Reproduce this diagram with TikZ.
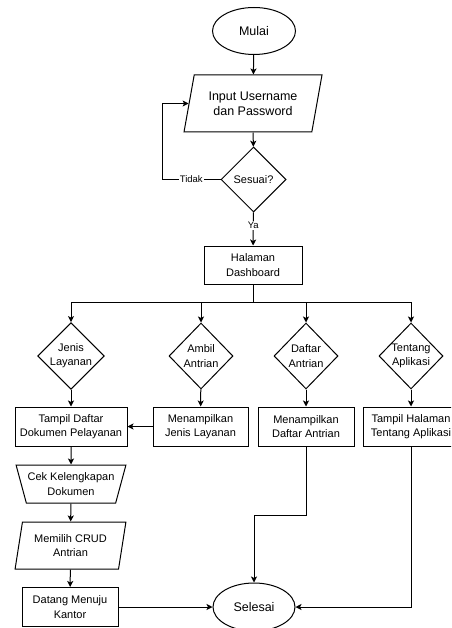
\documentclass[tikz,border=0pt]{standalone}
\usepackage{fontspec}
\setmainfont{Liberation Sans}
\usetikzlibrary{shapes.geometric,arrows.meta}

\begin{document}
\begin{tikzpicture}[x=1pt,y=-1pt,line width=1pt,
  every node/.style={inner sep=0pt,align=center,font=\fontsize{11}{14.3}\selectfont},
  arrow/.style={-{Stealth[length=6pt,width=6pt,inset=1.5pt]}},
  terminal/.style={draw,ellipse,font=\fontsize{12.5}{15}\selectfont},
  process/.style={draw,rectangle,minimum height=39pt},
  choice/.style={draw,diamond,minimum width=64pt,minimum height=66pt},
  datain/.style={draw,trapezium,trapezium stretches=true,trapezium left angle=72,trapezium right angle=108},
  lbl/.style={fill=white,inner sep=1pt,font=\fontsize{9.5}{11}\selectfont}]
\useasboundingbox (0,0) rectangle (451,628);
\clip (0,0) rectangle (451,628);
\node[terminal,minimum width=83pt,minimum height=47pt] (mulai) at (254,31) {Mulai};
\node[datain,minimum width=138pt,minimum height=57pt,font=\fontsize{12.5}{15}\selectfont] (input) at (253,103.5) {Input Username\\dan Password};
\node[choice,minimum width=65pt,minimum height=65pt] (sesuai) at (253.5,179.5) {Sesuai?};
\node[process,minimum width=98pt,minimum height=38pt] (dash) at (253,265) {Halaman\\Dashboard};
\node[choice] (jenis) at (71,356) {Jenis\\Layanan};
\node[choice] (ambil) at (201,356) {Ambil\\Antrian};
\node[choice] (daftar) at (306,356) {Daftar\\Antrian};
\node[choice] (tentang) at (411,356) {Tentang\\Aplikasi};
\node[process,minimum width=112pt] (tampildok) at (71,426.5) {Tampil Daftar\\Dokumen Pelayanan};
\node[process,minimum width=95pt] (tampiljenis) at (200.5,426.5) {Menampilkan\\Jenis Layanan};
\node[process,minimum width=96pt] (tampilantri) at (306,426.5) {Menampilkan\\Daftar Antrian};
\node[process,minimum width=96pt] (tampilapp) at (411,426.5) {Tampil Halaman\\Tentang Aplikasi};
\node[draw,trapezium,trapezium stretches=true,trapezium left angle=66,trapezium right angle=66,shape border rotate=180,minimum width=110pt,minimum height=38pt] (cek) at (71,484) {Cek Kelengkapan\\Dokumen};
\node[datain,trapezium left angle=76,trapezium right angle=104,minimum width=111pt,minimum height=47pt] (crud) at (70.5,545.5) {Memilih CRUD\\Antrian};
\node[process,minimum width=96pt] (datang) at (70,607) {Datang Menuju\\Kantor};
\node[terminal,minimum width=82pt,minimum height=48pt] (selesai) at (254,607) {Selesai};
\coordinate (loopc) at (162,179.5);
\coordinate (bus) at (253,302);
\coordinate (turn) at (306,515);
\draw[arrow] (mulai) -- (input);
\draw[arrow] (input) -- (sesuai);
\draw[arrow] (sesuai.west) -- node[lbl]{Tidak} (loopc) |- (input);
\draw[arrow] (sesuai) -- node[lbl,pos=0.4]{Ya} (dash);
\draw (dash) -- (bus);
\draw[arrow] (bus) -| (jenis.north);
\draw[arrow] (bus) -| (ambil.north);
\draw[arrow] (bus) -| (daftar.north);
\draw[arrow] (bus) -| (tentang.north);
\draw[arrow] (jenis) -- (tampildok);
\draw[arrow] (ambil) -- (tampiljenis);
\draw[arrow] (daftar) -- (tampilantri);
\draw[arrow] (tentang) -- (tampilapp);
\draw[arrow] (tampiljenis) -- (tampildok);
\draw[arrow] (tampildok) -- (cek);
\draw[arrow] (cek) -- (crud);
\draw[arrow] (crud) -- (datang);
\draw[arrow] (datang) -- (selesai);
\draw[arrow] (tampilantri.south) -- (turn) -| (selesai.north);
\draw[arrow] (tampilapp.south) |- (selesai.east);
\end{tikzpicture}
\end{document}
